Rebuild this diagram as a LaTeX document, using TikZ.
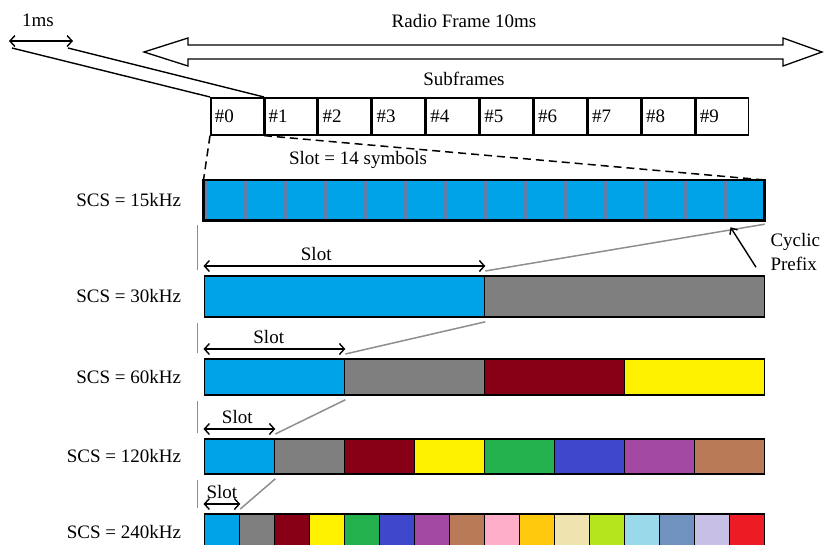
\documentclass[tikz,border=0pt]{standalone}
\usepackage{fontspec}
\setmainfont{Liberation Serif}
\usetikzlibrary{arrows.meta,positioning,calc}

\definecolor{c1}{HTML}{00A2E8}
\definecolor{c2}{HTML}{7F7F7F}
\definecolor{c3}{HTML}{880015}
\definecolor{c4}{HTML}{FFF200}
\definecolor{c5}{HTML}{22B14C}
\definecolor{c6}{HTML}{3F48CC}
\definecolor{c7}{HTML}{A349A4}
\definecolor{c8}{HTML}{B97A57}
\definecolor{c9}{HTML}{FFAEC9}
\definecolor{c10}{HTML}{FFC90E}
\definecolor{c11}{HTML}{EFE4B0}
\definecolor{c12}{HTML}{B5E61D}
\definecolor{c13}{HTML}{99D9EA}
\definecolor{c14}{HTML}{7092BE}
\definecolor{c15}{HTML}{C8BFE7}
\definecolor{c16}{HTML}{ED1C24}
\definecolor{cpcol}{HTML}{5F7FAA}
\definecolor{zoomgrey}{HTML}{8E8E8E}

\begin{document}
\begin{tikzpicture}[
    x=1pt, y=-1pt,
    font=\fontsize{19}{24}\selectfont,
    subframe/.style={rectangle, draw, line width=1.6pt, minimum height=37pt, text width=44.5pt, inner xsep=4pt, align=left, anchor=north west},
    symbol/.style={rectangle, draw, line width=1.2pt, fill=c1, minimum width=40pt, minimum height=39pt, inner sep=0pt, anchor=north west},
    cell/.style={rectangle, draw, line width=1.8pt, inner sep=0pt, anchor=north west},
    dbl/.style={{Straight Barb[length=5pt,width=11pt]}-{Straight Barb[length=5pt,width=11pt]}, line width=1.4pt},
    zoomline/.style={draw=zoomgrey, line width=1.5pt},
    zoomdash/.style={dash pattern=on 8pt off 5pt, line width=1.5pt}
]
\useasboundingbox (0,0) rectangle (824,544);

\node (ms) at (38,20) {1ms};
\coordinate (msa) at (9,41);
\coordinate (msb) at (73,41);
\draw[dbl] (msa) -- (msb);
\coordinate (msl) at (12,48);
\coordinate (msr) at (68,48);

\node (frame) at (464,21) {Radio Frame 10ms};
\draw[line width=1.3pt] (144,52) -- (188,38) -- (188,45) -- (783,45) -- (783,38) -- (822,52)
    -- (783,66) -- (783,59) -- (188,59) -- (188,66) -- cycle;

\node (subf) at (464,79) {Subframes};
\foreach \k in {0,...,9}
    \node[subframe] (sf\k) at ({210+53.9*\k}, 97) {\#\k};
\draw[line width=1.4pt] (msl) -- (sf0.north west);
\draw[line width=1.4pt] (msr) -- (sf1.north west);

\node (slot14) at (358,160) {Slot = 14 symbols};
\foreach \k in {1,...,14}{
    \node[symbol] (s\k) at ({203.5+40*(\k-1)}, 180) {};
    \fill[cpcol] ([xshift=0.6pt]s\k.north west) rectangle ([xshift=4pt]s\k.south west);
}
\draw[line width=2.6pt] (s1.north west) rectangle (s14.south east);
\node[left=19pt of s1] (l15) {SCS = 15kHz};
\draw[zoomdash] (sf0.south west) -- (s1.north west);
\draw[zoomdash] (sf1.south west) -- (s14.north east);

\foreach \fq/\n/\t/\h in {30/2/275/41, 60/4/358/36, 120/8/438/35, 240/16/513/36}{
    \pgfmathsetmacro\w{560/\n}
    \foreach \k in {1,...,\n}
        \node[cell, fill=c\k, minimum width=\w pt, minimum height=\h pt] (r\fq-\k) at ({203.5+(\k-1)*\w}, \t) {};
    \node[left=19pt of r\fq-1] (l\fq) {SCS = \fq kHz};
}

\foreach \a/\aw/\b in {s14/s1/r30-1, r30-1/r30-1/r60-1, r60-1/r60-1/r120-1, r120-1/r120-1/r240-1}{
    \draw[zoomline] ([yshift=-4pt]\a.south east) -- ([yshift=4pt]\b.north east);
    \draw[zoomline] ([xshift=-6pt,yshift=-5pt]\aw.south west) -- ([xshift=-6pt,yshift=5pt]\b.north west);
}

\foreach \b/\p in {r30-1/0.4, r60-1/0.46, r120-1/0.47, r240-1/0.5}
    \draw[dbl] ([yshift=9pt]\b.north west) -- ([yshift=9pt]\b.north east) node[pos=\p, above=1pt] {Slot};

\node[align=left, anchor=west] (cp) at (767,252) {Cyclic\\Prefix};
\draw[{Straight Barb[length=5pt,width=9pt]}-, line width=1.4pt] ([xshift=7pt,yshift=-7pt]s14.south west) -- ([xshift=-11pt,yshift=7pt]cp.south west);

\end{tikzpicture}
\end{document}
